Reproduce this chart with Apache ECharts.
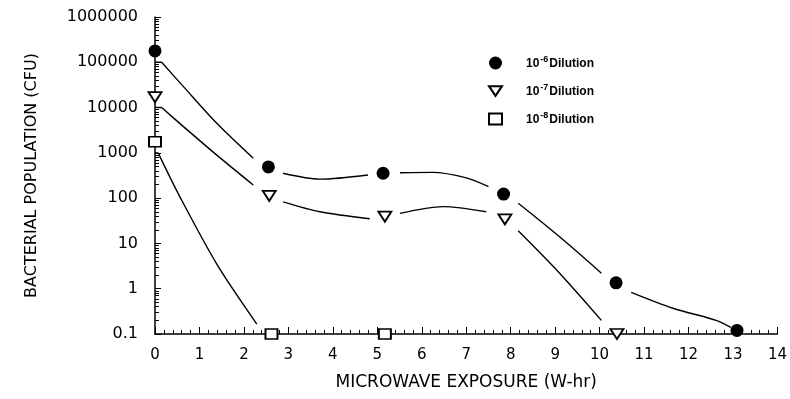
<!DOCTYPE html>
<html>
<head>
<meta charset="utf-8">
<script src="https://cdn.jsdelivr.net/npm/echarts@6/dist/echarts.min.js"></script>
<style>html,body{margin:0;padding:0;background:#fff}#c{width:790px;height:399px}</style>
</head>
<body>
<div id="c"></div>
<script>
// ---- data ----
const seriesNames = ['10-6 Dilution', '10-7 Dilution', '10-8 Dilution'];
const seriesSup = ['-6', '-7', '-8'];

// measured points (x = W-hr, y = CFU)
const dil6X = [0, 2.55, 5.13, 7.84, 10.37, 13.09];
const dil6Y = [178000, 490, 355, 123, 1.35, 0.12];
const dil7X = [0, 2.57, 5.17, 7.87, 10.39];
const dil7Y = [17000, 112, 39, 34, 0.1];
const dil8X = [0, 2.62, 5.17];
const dil8Y = [1760, 0.1, 0.1];

// fitted curves as drawn (null = gap in the drawn line)
const curve6X = [0.0, 0.15, 0.15, 0.15, 0.64, 1.39, 2.21, 2.5, 2.88, 3.71, 4.79, 5.0, 5.51, 6.25, 7.0, 7.5, 7.8, 8.17, 9.1, 10.04, 10.4, 10.71, 11.65, 12.62, 12.95];
const curve6Y = [100000, 100000, null, 100000, 29000, 4500, 760, null, 355, 263, 325, null, 363, 370, 280, 180, null, 77, 14, 2.2, null, 0.83, 0.37, 0.2, 0.14];
const curve7X = [0.0, 0.15, 0.15, 0.15, 0.64, 1.39, 2.21, 2.5, 2.88, 3.71, 4.83, 5.1, 5.51, 6.48, 7.45, 7.8, 8.17, 9.1, 10.04];
const curve7Y = [10000, 10000, null, 10000, 3800, 890, 195, null, 83, 50, 35, null, 46, 65, 50, null, 19, 2.2, 0.2];
const curve8X = [0.0, 0.07, 0.07, 0.07, 0.56, 1.39, 2.29];
const curve8Y = [1000, 1000, null, 1000, 107, 3.5, 0.166];

const xTicks = [0, 1, 2, 3, 4, 5, 6, 7, 8, 9, 10, 11, 12, 13, 14];
const yTickLabels = ['0.1', '1', '10', '100', '1000', '10000', '100000', '1000000'];

// ---- build ----
const pairs = (xs, ys) => xs.map((x, i) => [x, ys[i] === null ? '-' : ys[i]]);
const INK = '#000';
const triPath = 'path://M0,0L12,0L6,9Z';
const sqPath = 'path://M0,0L12,0L12,10L0,10Z';

const curveStyle = {
  type: 'line', smooth: 0.3, showSymbol: false, silent: true, connectNulls: false,
  lineStyle: { color: INK, width: 1.4 }, z: 2
};

const chart = echarts.init(document.getElementById('c'), null, { renderer: 'canvas' });
chart.setOption({
  backgroundColor: '#fff',
  animation: false,
  grid: { left: 155, right: 12, top: 17, bottom: 65, containLabel: false },
  legend: {
    data: seriesNames,
    orient: 'vertical',
    left: 483, top: 50,
    itemWidth: 13, itemHeight: 13,
    itemGap: 13,
    selectedMode: false,
    formatter: function (name) {
      const i = seriesNames.indexOf(name);
      return '{a|10}{s|' + seriesSup[i] + '}{a|Dilution}';
    },
    textStyle: {
      padding: [0, 0, 0, 19],
      rich: {
        a: { fontFamily: 'Liberation Sans', fontWeight: 'bold', fontSize: 12, color: INK, lineHeight: 14, verticalAlign: 'bottom' },
        s: { fontFamily: 'Liberation Sans', fontWeight: 'bold', fontSize: 9, color: INK, lineHeight: 14, verticalAlign: 'bottom', padding: [0, 1, 6, 1] }
      }
    }
  },
  xAxis: {
    type: 'value', min: 0, max: 14, interval: 1,
    name: 'MICROWAVE EXPOSURE (W-hr)', nameLocation: 'middle', nameGap: 40,
    nameTextStyle: { fontFamily: 'DejaVu Sans', fontSize: 17, color: INK },
    axisLine: { show: true, lineStyle: { color: INK, width: 1.5 } },
    axisTick: { show: true, inside: true, length: 7, lineStyle: { color: INK, width: 1 } },
    minorTick: { show: true, splitNumber: 5, length: 4, lineStyle: { color: INK, width: 1 } },
    splitLine: { show: false },
    axisLabel: {
      fontFamily: 'DejaVu Sans', fontSize: 15, color: INK, margin: 14,
      formatter: v => String(xTicks[Math.round(v)])
    }
  },
  yAxis: {
    type: 'log', logBase: 10, min: 0.1, max: 1000000,
    name: 'BACTERIAL POPULATION (CFU)', nameLocation: 'middle', nameGap: 115, nameRotate: 90,
    nameTextStyle: { fontFamily: 'DejaVu Sans', fontSize: 16, color: INK },
    axisLine: { show: true, lineStyle: { color: INK, width: 1.5 } },
    axisTick: { show: true, inside: true, length: 6, lineStyle: { color: INK, width: 1 } },
    minorTick: { show: true, splitNumber: 9, length: 4, lineStyle: { color: INK, width: 1 } },
    splitLine: { show: false },
    axisLabel: {
      fontFamily: 'DejaVu Sans', fontSize: 16, color: INK, margin: 17,
      formatter: v => yTickLabels[Math.round(Math.log10(v)) + 1]
    }
  },
  series: [
    Object.assign({ name: 'c6', data: pairs(curve6X, curve6Y) }, curveStyle),
    Object.assign({ name: 'c7', data: pairs(curve7X, curve7Y) }, curveStyle),
    Object.assign({ name: 'c8', data: pairs(curve8X, curve8Y) }, curveStyle),
    {
      name: seriesNames[0], type: 'scatter', clip: false, z: 5,
      symbol: 'circle', symbolSize: 13,
      itemStyle: { color: INK, opacity: 1 },
      data: pairs(dil6X, dil6Y)
    },
    {
      name: seriesNames[1], type: 'scatter', clip: false, z: 5,
      symbol: triPath, symbolSize: [13, 10],
      itemStyle: { color: '#fff', borderColor: INK, borderWidth: 1.8, opacity: 1 },
      data: pairs(dil7X, dil7Y)
    },
    {
      name: seriesNames[2], type: 'scatter', clip: false, z: 5,
      symbol: sqPath, symbolSize: [12, 10],
      itemStyle: { color: '#fff', borderColor: INK, borderWidth: 1.8, opacity: 1 },
      data: pairs(dil8X, dil8Y)
    }
  ]
});
</script>
</body>
</html>
